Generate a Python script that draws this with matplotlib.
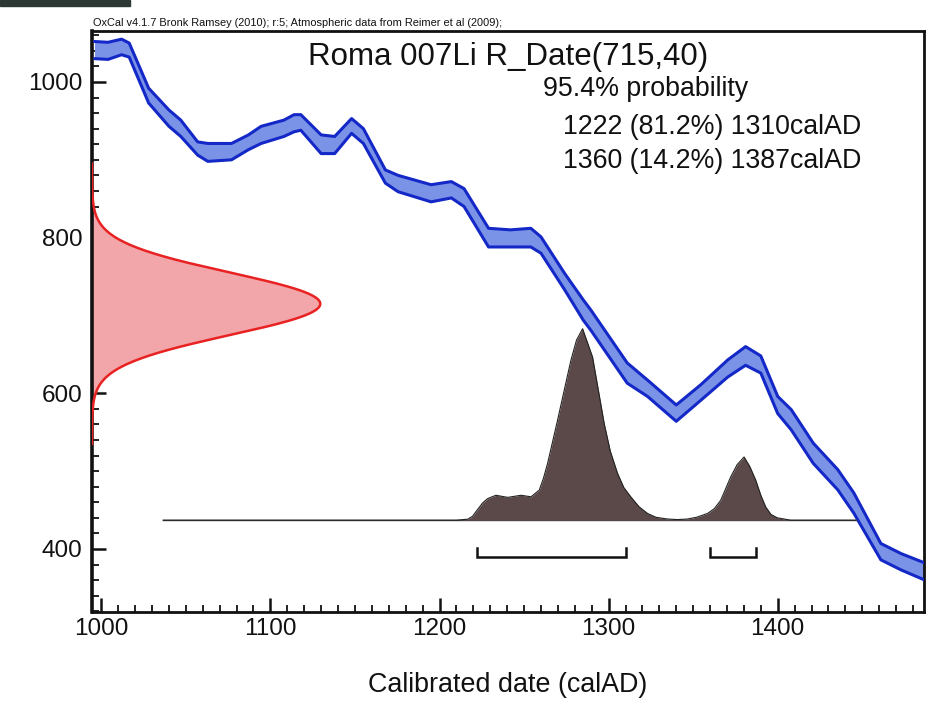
import numpy as np
import matplotlib
matplotlib.use("Agg")
import matplotlib.pyplot as plt
from matplotlib.patches import Rectangle
from matplotlib.ticker import MultipleLocator

plt.rcParams['font.family'] = ['Liberation Sans', 'DejaVu Sans']

# ---------------- data ----------------
# Calibration curve (IntCal09 band, radiocarbon BP)
cal_years = [996, 1004, 1012, 1016.5, 1028, 1040, 1047, 1057, 1063, 1077,
             1087, 1094.5, 1108, 1114, 1118, 1130, 1138, 1148, 1155, 1168,
             1175.5, 1195, 1207, 1214.5, 1229, 1242, 1254, 1260, 1274, 1285,
             1289.5, 1311, 1323, 1340, 1354.5, 1370.5, 1381, 1390, 1400, 1408,
             1421, 1435.5, 1445, 1461, 1473, 1487]
cal_upper = [1052, 1051, 1055, 1050, 992, 964, 951, 923, 921, 921,
             932, 943, 951, 958, 958, 932, 930, 953, 940, 887,
             880, 868, 872, 863, 812, 810, 812, 801, 754, 720,
             707, 639, 617, 585, 611, 643, 660, 648, 596, 579,
             536, 502, 472, 407, 394, 382]
cal_lower = [1030, 1029, 1035, 1032, 973, 943, 930, 906, 898, 900,
             913, 921, 930, 936, 938, 908, 908, 934, 921, 870,
             859, 846, 851, 840, 788, 788, 788, 780, 733, 694,
             681, 613, 596, 564, 591, 621, 636, 626, 574, 553,
             510, 476, 446, 386, 373, 360]

# Radiocarbon determination R_Date(715,40)
r_date_mean = 715
r_date_sd = 40

# Calibrated posterior (relative probability)
post_years = [1036.6, 1210, 1216.7, 1219.5, 1222, 1225.5, 1228.5, 1233.4, 1240.3,
              1248.2, 1254.1, 1259.0, 1261.5, 1263.9, 1269.8, 1277.7, 1281,
              1284.6, 1290.5, 1297.4, 1301, 1305.3, 1309, 1313.1, 1318, 1323.0,
              1328, 1334.8, 1340.7, 1346.6, 1352, 1358.5, 1362.5, 1366.3, 1372.2,
              1376, 1380.1, 1383.5, 1387.0, 1390, 1392.9, 1396, 1399.8, 1407.7,
              1446.1]
post_prob = [0, 0, 0.005, 0.02, 0.05, 0.09, 0.113, 0.130, 0.119,
             0.130, 0.122, 0.157, 0.22, 0.296, 0.522, 0.835, 0.94,
             1.0, 0.852, 0.504, 0.36, 0.244, 0.17, 0.122, 0.07, 0.035,
             0.015, 0.006, 0.003, 0.006, 0.015, 0.035, 0.06, 0.104, 0.226,
             0.29, 0.330, 0.28, 0.209, 0.13, 0.069, 0.03, 0.012, 0.0,
             0]

# 95.4% ranges
range_starts = [1222, 1360]
range_ends = [1310, 1387]
range_pcts = [81.2, 14.2]

title = "Roma 007Li R_Date(715,40)"
header = "OxCal v4.1.7 Bronk Ramsey (2010); r:5; Atmospheric data from Reimer et al (2009);"
xlabel = "Calibrated date (calAD)"

# ---------------- figure ----------------
fig = plt.figure(figsize=(9.35, 7.07), dpi=100)
fig.patch.set_facecolor('white')
ax = fig.add_axes([92/935, 1-612/707, (924-92)/935, (612-31)/707])

xmin, xmax = 994.5, 1486.5
ymin, ymax = 319, 1065.5
ax.set_xlim(xmin, xmax)
ax.set_ylim(ymin, ymax)

# calibration curve band
ax.fill_between(cal_years, cal_lower, cal_upper, color='#7b93e6', lw=0, zorder=2)
ax.plot(cal_years, cal_upper, color='#1428c8', lw=2.2, zorder=3,
        solid_joinstyle='round', solid_capstyle='round')
ax.plot(cal_years, cal_lower, color='#1428c8', lw=2.2, zorder=3,
        solid_joinstyle='round', solid_capstyle='round')

# radiocarbon normal distribution on y axis
yy = np.linspace(r_date_mean - 4.5*r_date_sd, r_date_mean + 4.5*r_date_sd, 300)
dens = np.exp(-0.5*((yy - r_date_mean)/r_date_sd)**2)
width = 135
ax.fill_betweenx(yy, xmin, xmin + width*dens, color='#f2a6aa', lw=0, zorder=2)
ax.plot(xmin + width*dens, yy, color='#e82222', lw=1.8, zorder=3)

# posterior distribution
base = 437
height = 246
py = np.array(post_prob)
ax.plot([post_years[0], post_years[-1]], [base, base], color='#444444', lw=1.0, zorder=3)
ax.fill_between(post_years, base, base + height*py, color='#5b4848', lw=0, zorder=4)
ax.plot(post_years, base + height*py, color='#222222', lw=0.8, zorder=5)

# range brackets
by = 390
bh = 11
for s, e in zip(range_starts, range_ends):
    ax.plot([s, s, e, e], [by + bh, by, by, by + bh], color='#111111', lw=1.8,
            zorder=5, solid_joinstyle='miter')

# axes styling
for sp in ax.spines.values():
    sp.set_linewidth(2)
    sp.set_color('#111111')
ax.spines['left'].set_linewidth(2.6)
ax.xaxis.set_major_locator(MultipleLocator(100))
ax.xaxis.set_minor_locator(MultipleLocator(10))
ax.yaxis.set_major_locator(MultipleLocator(200))
ax.yaxis.set_minor_locator(MultipleLocator(20))
ax.tick_params(which='both', direction='in', top=False, right=False, color='#111111')
ax.tick_params(which='major', length=10, width=1.8, labelsize=17.5, colors='#111111')
ax.tick_params(which='minor', length=5, width=1.3)
ax.tick_params(axis='y', which='major', pad=7)
ax.tick_params(axis='x', which='major', pad=4)

ax.set_xlabel(xlabel, fontsize=19.4, color='#111111')
ax.xaxis.set_label_coords(0.5, -0.103)

# texts
ax.text(0.5, (612-65)/581, title, transform=ax.transAxes, ha='center', va='baseline',
        fontsize=22.5, color='#111111')
ax.text((543-92)/832, (612-96)/581, "95.4% probability", transform=ax.transAxes,
        ha='left', va='baseline', fontsize=19.3, color='#111111')
for i, (s, e, p) in enumerate(zip(range_starts, range_ends, range_pcts)):
    yb = [133.5, 168.5][i]
    ax.text((563-92)/832, (612-yb)/581, f"{s} ({p}%) {e}calAD", transform=ax.transAxes,
            ha='left', va='baseline', fontsize=19.3, color='#111111')

fig.text(93/935, 1-26/707, header, ha='left', va='baseline', fontsize=7.9, color='#111111')

# dark strip at top-left of the screenshot
fig.patches.append(Rectangle((0, 1-6/707), 130/935, 6/707, transform=fig.transFigure,
                             color='#2d3834', zorder=0))

fig.savefig('out.png', dpi=100)
